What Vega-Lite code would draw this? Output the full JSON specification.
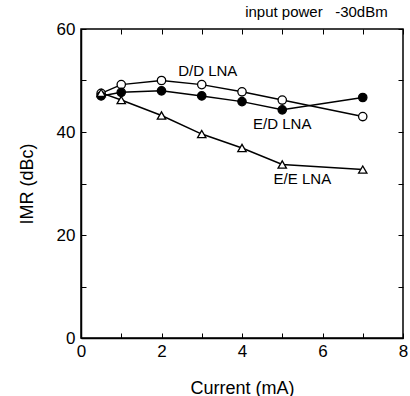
{
  "$schema": "https://vega.github.io/schema/vega-lite/v6.json",
  "autosize": {"type": "none"},
  "padding": {"left": 81, "top": 29, "right": 7, "bottom": 58},
  "width": 322,
  "height": 309,
  "background": "white",
  "config": {
    "font": "Liberation Sans",
    "view": {"stroke": "black", "strokeWidth": 1.5},
    "axis": {"grid": false, "domainColor": "black", "domainWidth": 1.5, "tickColor": "black", "labelColor": "black", "titleColor": "black", "labelFont": "Liberation Sans", "titleFont": "Liberation Sans", "titleFontWeight": "normal"}
  },
  "datasets": {
    "series": [
      {"current": 0.5, "imr": 47.5, "series": "D/D"},
      {"current": 1, "imr": 49.2, "series": "D/D"},
      {"current": 2, "imr": 50.0, "series": "D/D"},
      {"current": 3, "imr": 49.2, "series": "D/D"},
      {"current": 4, "imr": 47.8, "series": "D/D"},
      {"current": 5, "imr": 46.2, "series": "D/D"},
      {"current": 7, "imr": 43.0, "series": "D/D"},
      {"current": 0.5, "imr": 47.0, "series": "E/D"},
      {"current": 1, "imr": 47.7, "series": "E/D"},
      {"current": 2, "imr": 48.0, "series": "E/D"},
      {"current": 3, "imr": 47.0, "series": "E/D"},
      {"current": 4, "imr": 45.9, "series": "E/D"},
      {"current": 5, "imr": 44.3, "series": "E/D"},
      {"current": 7, "imr": 46.7, "series": "E/D"},
      {"current": 0.5, "imr": 47.6, "series": "E/E"},
      {"current": 1, "imr": 46.2, "series": "E/E"},
      {"current": 2, "imr": 43.2, "series": "E/E"},
      {"current": 3, "imr": 39.6, "series": "E/E"},
      {"current": 4, "imr": 36.9, "series": "E/E"},
      {"current": 5, "imr": 33.7, "series": "E/E"},
      {"current": 7, "imr": 32.7, "series": "E/E"}
    ],
    "labels": [
      {"x": 3.15, "y": 51.8, "label": "D/D LNA", "align": "center"},
      {"x": 5.0, "y": 41.5, "label": "E/D LNA", "align": "center"},
      {"x": 5.5, "y": 30.9, "label": "E/E LNA", "align": "center"}
    ],
    "note": [
      {"x": 7.62, "y": 62.4, "label": "input power\u00a0\u00a0\u00a0-30dBm"}
    ]
  },
  "layer": [
    {
      "data": {"name": "series"},
      "mark": {"type": "line", "color": "black", "strokeWidth": 1.5},
      "encoding": {
        "x": {"field": "current", "type": "quantitative", "scale": {"domain": [0, 8], "nice": false},
          "axis": {"title": "Current (mA)", "titleFontSize": 18, "titlePadding": 20, "labelFontSize": 17, "values": [0, 1, 2, 3, 4, 5, 6, 7, 8], "labelExpr": "datum.value % 2 == 0 ? datum.label : ''", "tickSize": -5, "labelPadding": 10, "labelFlush": false}},
        "y": {"field": "imr", "type": "quantitative", "scale": {"domain": [0, 60], "nice": false},
          "axis": {"title": "IMR (dBc)", "titleFontSize": 18, "titlePadding": 20, "labelFontSize": 17, "values": [0, 10, 20, 30, 40, 50, 60], "labelExpr": "datum.value % 20 == 0 ? datum.label : ''", "tickSize": -5, "labelPadding": 11, "labelFlush": false}},
        "detail": {"field": "series", "type": "nominal"}
      }
    },
    {
      "data": {"name": "series"},
      "mark": {"type": "point", "filled": true, "stroke": "black", "strokeWidth": 1.3, "size": 70, "opacity": 1},
      "encoding": {
        "x": {"field": "current", "type": "quantitative", "axis": {"orient": "top", "title": null, "labels": false, "values": [0, 1, 2, 3, 4, 5, 6, 7, 8], "tickSize": -5, "domain": false}},
        "y": {"field": "imr", "type": "quantitative", "axis": {"orient": "right", "title": null, "labels": false, "values": [0, 10, 20, 30, 40, 50, 60], "tickSize": -5, "domain": false}},
        "shape": {"field": "series", "type": "nominal", "scale": {"domain": ["D/D", "E/D", "E/E"], "range": ["circle", "circle", "triangle-up"]}, "legend": null},
        "fill": {"field": "series", "type": "nominal", "scale": {"domain": ["D/D", "E/D", "E/E"], "range": ["white", "black", "white"]}, "legend": null}
      }
    },
    {
      "data": {"name": "labels"},
      "mark": {"type": "text", "fontSize": 15, "color": "black", "align": "center", "baseline": "middle", "font": "Liberation Sans"},
      "encoding": {
        "x": {"field": "x", "type": "quantitative", "axis": null},
        "y": {"field": "y", "type": "quantitative", "axis": null},
        "text": {"field": "label", "type": "nominal"}
      }
    },
    {
      "data": {"name": "note"},
      "mark": {"type": "text", "fontSize": 15, "color": "black", "align": "right", "baseline": "alphabetic", "font": "Liberation Sans", "clip": false},
      "encoding": {
        "x": {"field": "x", "type": "quantitative", "axis": null},
        "y": {"field": "y", "type": "quantitative", "axis": null},
        "text": {"field": "label", "type": "nominal"}
      }
    }
  ],
  "resolve": {"axis": {"x": "independent", "y": "independent"}}
}
